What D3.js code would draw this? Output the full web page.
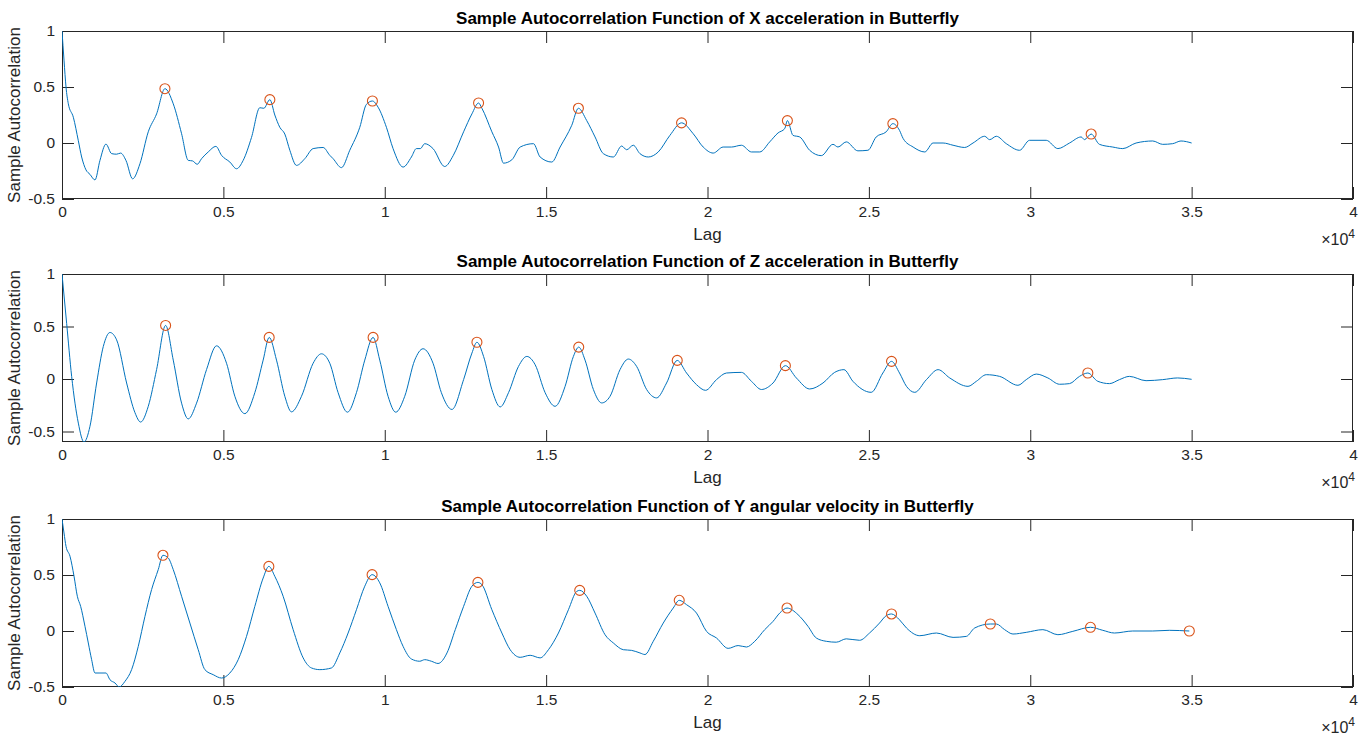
<!DOCTYPE html>
<html>
<head>
<meta charset="utf-8">
<script src="https://cdn.jsdelivr.net/npm/d3@7"></script>
<style>
  html, body { margin: 0; padding: 0; background: #ffffff; }
  svg text { font-family: "Liberation Sans", Arial, Helvetica, sans-serif; }
</style>
</head>
<body>
<svg id="chart" width="1370" height="738"></svg>
<script>
// ---------------- DATA ----------------
const titles = [
  "Sample Autocorrelation Function of X acceleration in Butterfly",
  "Sample Autocorrelation Function of Z acceleration in Butterfly",
  "Sample Autocorrelation Function of Y angular velocity in Butterfly"
];
const xTicks = [0, 5000, 10000, 15000, 20000, 25000, 30000, 35000, 40000];
const yTicks = [-0.5, 0, 0.5, 1];
const yDomains = [[-0.5, 1], [-0.6, 1], [-0.5, 1]];

// X acceleration ACF
const lagsX = [0,62,124,196,351,506,609,743,867,1022,1176,1362,1538,1692,1816,1981,2188,2415,2673,2931,3189,3447,3705,3911,4045,4190,4324,4530,4768,4943,5201,5408,5614,5872,6130,6254,6440,6594,6749,6904,7059,7265,7523,7781,8091,8297,8400,8658,8916,9226,9432,9618,9793,10052,10258,10568,10826,10980,11104,11238,11496,11857,12125,12443,12701,12907,13010,13319,13526,13680,13938,14196,14608,14814,15175,15433,15794,16000,16258,16516,16773,17083,17340,17495,17701,17907,18165,18474,18835,19196,19557,19866,20176,20485,20743,21052,21361,21619,21928,22186,22392,22475,22650,22856,23165,23526,23887,24042,24299,24660,24970,25227,25537,25743,25949,26062,26371,26732,26990,27299,27608,27969,28227,28588,28742,28948,29258,29670,29979,30495,30856,31217,31577,31680,31887,32144,32557,32866,33279,33794,34103,34412,34670,35000];
const acfX = [1,0.74,0.5,0.35,0.23,0.02,-0.125,-0.24,-0.28,-0.33,-0.155,-0.01,-0.095,-0.1,-0.09,-0.155,-0.32,-0.185,0.1,0.26,0.485,0.35,0.083,-0.155,-0.16,-0.19,-0.14,-0.08,-0.03,-0.11,-0.17,-0.23,-0.155,0.05,0.315,0.31,0.387,0.25,0.14,0.08,-0.065,-0.2,-0.14,-0.05,-0.04,-0.11,-0.14,-0.22,-0.065,0.14,0.345,0.375,0.32,0.14,-0.05,-0.215,-0.125,-0.05,-0.05,-0.006,-0.05,-0.21,-0.11,0.1,0.26,0.357,0.31,0.1,-0.036,-0.18,-0.15,-0.036,-0.006,-0.125,-0.17,-0.036,0.158,0.31,0.2,0.054,-0.095,-0.125,-0.027,-0.06,-0.02,-0.095,-0.125,-0.08,0.068,0.18,0.083,-0.036,-0.09,-0.036,-0.036,-0.02,-0.08,-0.08,0.01,0.09,0.128,0.2,0.068,0.054,-0.065,-0.113,-0.012,-0.036,0.01,-0.07,-0.065,0.054,0.1,0.173,0.113,0.04,-0.036,-0.08,0,0,-0.02,-0.04,0,0.06,0.03,0.06,-0.006,-0.065,0.024,0.024,-0.05,0,0.054,0.03,0.08,-0.012,-0.036,-0.05,0,0.018,-0.012,-0.006,0.018,0];
const peakLagsX = [3189, 6440, 9618, 12907, 16000, 19196, 22475, 25743, 31887];
const peakAcfX  = [0.485, 0.387, 0.375, 0.357, 0.31, 0.18, 0.2, 0.173, 0.08];

// Z acceleration ACF
const lagsZ = [0,144,299,506,681,867,1073,1280,1486,1692,2002,2260,2436,2673,2931,3210,3447,3705,3911,4169,4479,4788,5098,5356,5666,5975,6233,6419,6646,6904,7110,7420,7781,8039,8297,8555,8844,9123,9381,9639,9845,10103,10341,10619,10929,11187,11496,11754,12082,12443,12701,12856,13062,13319,13577,13835,14144,14402,14660,14969,15278,15588,15845,16010,16206,16464,16722,16980,17289,17547,17804,18114,18423,18732,19062,19351,19660,19938,20279,20588,21052,21361,21671,22031,22413,22753,23165,23578,23939,24227,24505,25073,25433,25702,25949,26165,26422,26783,27144,27505,28072,28330,28639,29051,29619,29876,30186,30546,30907,31217,31526,31784,32093,32454,32763,33072,33588,34103,34567,35000];
const acfZ = [1,0.53,0.025,-0.42,-0.6,-0.45,-0.038,0.31,0.443,0.373,-0.038,-0.32,-0.41,-0.26,0.09,0.51,0.18,-0.23,-0.38,-0.23,0.09,0.316,0.15,-0.165,-0.33,-0.13,0.18,0.396,0.18,-0.165,-0.313,-0.165,0.15,0.24,0.15,-0.13,-0.316,-0.13,0.18,0.396,0.18,-0.165,-0.316,-0.165,0.18,0.288,0.15,-0.13,-0.29,-0.006,0.247,0.35,0.215,-0.1,-0.266,-0.13,0.12,0.215,0.136,-0.13,-0.26,-0.07,0.215,0.304,0.18,-0.1,-0.228,-0.165,0.089,0.19,0.12,-0.1,-0.18,-0.038,0.177,0.057,-0.054,-0.108,-0.006,0.057,0.063,-0.022,-0.1,-0.038,0.127,0.01,-0.095,-0.038,0.063,0.089,-0.022,-0.127,0.057,0.168,0.057,-0.07,-0.127,-0.006,0.089,0.01,-0.07,-0.022,0.041,0.025,-0.06,-0.006,0.047,0.01,-0.05,-0.044,0.025,0.057,-0.022,-0.044,-0.006,0.025,-0.016,-0.006,0.01,-0.003];
const peakLagsZ = [3210, 6419, 9639, 12856, 16010, 19062, 22413, 25702, 31784];
const peakAcfZ  = [0.51, 0.396, 0.396, 0.35, 0.304, 0.177, 0.127, 0.168, 0.057];

// Y angular velocity ACF
const lagsY = [0,62,124,248,372,475,578,712,815,918,1022,1176,1362,1486,1641,1775,1950,2157,2363,2570,2776,2982,3127,3292,3447,3705,3963,4221,4427,4685,4943,5201,5459,5717,5975,6233,6409,6594,6852,7162,7472,7730,7988,8349,8607,8865,9123,9381,9608,9845,10103,10361,10568,10826,11084,11238,11445,11651,11928,12185,12443,12701,12886,13010,13319,13629,13886,14196,14505,14814,15072,15381,15691,15949,16041,16258,16516,16825,17083,17392,17650,17907,18062,18320,18629,18938,19124,19351,19660,19969,20279,20640,20949,21207,21464,21773,22031,22237,22464,22804,23113,23371,23681,23990,24299,24712,25021,25330,25537,25702,25949,26165,26577,27093,27608,28021,28278,28763,28948,29206,29464,29876,30392,30856,31320,31866,32248,32608,33175,33794,34309,34928];
const acfY = [1,0.875,0.756,0.667,0.49,0.31,0.22,0.042,-0.107,-0.256,-0.375,-0.375,-0.375,-0.435,-0.464,-0.5,-0.45,-0.345,-0.137,0.13,0.37,0.548,0.676,0.652,0.548,0.31,0.071,-0.167,-0.345,-0.39,-0.42,-0.375,-0.256,-0.048,0.22,0.473,0.577,0.488,0.31,0.012,-0.24,-0.33,-0.345,-0.33,-0.196,-0.018,0.19,0.4,0.503,0.43,0.22,0.012,-0.137,-0.25,-0.27,-0.256,-0.27,-0.29,-0.196,0.012,0.22,0.4,0.434,0.414,0.19,-0.018,-0.167,-0.235,-0.217,-0.24,-0.167,-0.018,0.19,0.354,0.363,0.31,0.16,-0.033,-0.107,-0.167,-0.173,-0.196,-0.21,-0.092,0.071,0.205,0.274,0.235,0.16,-0.003,-0.0625,-0.155,-0.13,-0.143,-0.092,0.012,0.086,0.16,0.205,0.146,0.042,-0.0625,-0.092,-0.1,-0.07,-0.083,-0.018,0.071,0.137,0.152,0.1,0.027,-0.042,-0.018,-0.057,-0.048,0.027,0.0625,0.0625,0.012,-0.027,-0.012,0.012,-0.033,-0.003,0.033,0.006,-0.018,0,0,0.006,0];
const peakLagsY = [3127, 6409, 9608, 12886, 16041, 19124, 22464, 25702, 28763, 31866, 34928];
const peakAcfY  = [0.676, 0.577, 0.503, 0.434, 0.363, 0.274, 0.205, 0.152, 0.0625, 0.033, 0];

// ---------------- DRAW ----------------
const series = [
  {lags: lagsX, acf: acfX, pl: peakLagsX, pa: peakAcfX},
  {lags: lagsZ, acf: acfZ, pl: peakLagsZ, pa: peakAcfZ},
  {lags: lagsY, acf: acfY, pl: peakLagsY, pa: peakAcfY}
];
const svg = d3.select("#chart");
const left = 62, right = 1353;
const tops = [31, 274, 519];
const ph = 168;
const axisCol = "#262626";

series.forEach((s, i) => {
  const top = tops[i], bottom = top + ph;
  const x = d3.scaleLinear().domain([0, 40000]).range([left, right]);
  const y = d3.scaleLinear().domain(yDomains[i]).range([bottom, top]);
  const g = svg.append("g");

  const clipId = "clip" + i;
  svg.append("clipPath").attr("id", clipId)
    .append("rect").attr("x", left).attr("y", top).attr("width", right - left).attr("height", ph);

  const styleAxis = sel => {
    sel.select(".domain").remove();
    sel.selectAll(".tick line").attr("stroke", axisCol).attr("stroke-width", 1);
    sel.selectAll(".tick text").attr("fill", axisCol).style("font-size", "15.5px");
  };

  g.append("g").attr("transform", `translate(0,${bottom})`)
    .call(d3.axisBottom(x).tickValues(xTicks).tickFormat(d => d / 1e4).tickSizeInner(-12).tickSizeOuter(0).tickPadding(7))
    .call(styleAxis);
  g.append("g").attr("transform", `translate(0,${top})`)
    .call(d3.axisTop(x).tickValues(xTicks).tickFormat("").tickSizeInner(-12).tickSizeOuter(0))
    .call(styleAxis);
  g.append("g").attr("transform", `translate(${left},0)`)
    .call(d3.axisLeft(y).tickValues(yTicks).tickFormat(d => d).tickSizeInner(-12).tickSizeOuter(0).tickPadding(7))
    .call(styleAxis);
  g.append("g").attr("transform", `translate(${right},0)`)
    .call(d3.axisRight(y).tickValues(yTicks).tickFormat("").tickSizeInner(-12).tickSizeOuter(0))
    .call(styleAxis);

  // box
  g.append("rect").attr("x", left + 0.5).attr("y", top + 0.5)
    .attr("width", right - left - 1).attr("height", ph - 1)
    .attr("fill", "none").attr("stroke", axisCol).attr("stroke-width", 1);

  // line
  const data = s.lags.map((l, k) => [l, s.acf[k]]);
  const line = d3.line().x(d => x(d[0])).y(d => y(d[1])).curve(d3.curveMonotoneX);
  g.append("path").datum(data).attr("d", line)
    .attr("clip-path", `url(#${clipId})`)
    .attr("fill", "none").attr("stroke", "#0072BD").attr("stroke-width", 1);

  // peak markers
  g.selectAll("circle.pk").data(s.pl.map((l, k) => [l, s.pa[k]])).enter()
    .append("circle").attr("class", "pk")
    .attr("cx", d => x(d[0])).attr("cy", d => y(d[1])).attr("r", 5)
    .attr("fill", "none").attr("stroke", "#D95319").attr("stroke-width", 1.1);

  // title
  g.append("text").attr("x", (left + right) / 2).attr("y", top - 7)
    .attr("text-anchor", "middle").style("font-size", "17px").style("font-weight", "bold")
    .attr("fill", "#000").text(titles[i]);
  // x label
  g.append("text").attr("x", (left + right) / 2).attr("y", bottom + 41)
    .attr("text-anchor", "middle").style("font-size", "17px").attr("fill", axisCol).text("Lag");
  // y label
  g.append("text").attr("transform", `translate(20,${(top + bottom) / 2}) rotate(-90)`)
    .attr("text-anchor", "middle").style("font-size", "17px").attr("fill", axisCol).text("Sample Autocorrelation");
  // exponent
  const ex = g.append("text").attr("x", right + 2).attr("y", bottom + 46)
    .attr("text-anchor", "end").attr("fill", axisCol).style("font-size", "16px");
  ex.append("tspan").text("\u00D710");
  ex.append("tspan").attr("dy", -7).style("font-size", "12px").text("4");
});
</script>
</body>
</html>
